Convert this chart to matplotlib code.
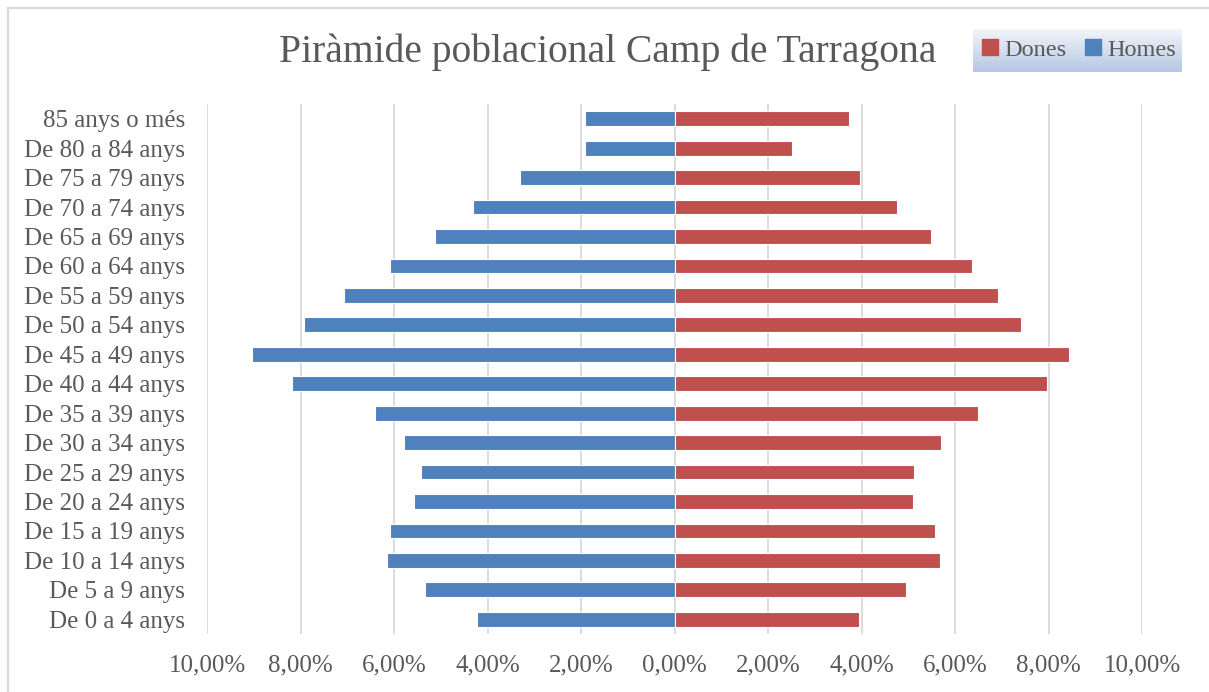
import numpy as np
import matplotlib.pyplot as plt
from matplotlib.patches import Patch
from matplotlib.ticker import FuncFormatter

# Grups d'edat, de baix a dalt
grups = ['De 0 a 4 anys', 'De 5 a 9 anys', 'De 10 a 14 anys', 'De 15 a 19 anys',
         'De 20 a 24 anys', 'De 25 a 29 anys', 'De 30 a 34 anys', 'De 35 a 39 anys',
         'De 40 a 44 anys', 'De 45 a 49 anys', 'De 50 a 54 anys', 'De 55 a 59 anys',
         'De 60 a 64 anys', 'De 65 a 69 anys', 'De 70 a 74 anys', 'De 75 a 79 anys',
         'De 80 a 84 anys', '85 anys o més']

# percentatges (%)
homes = [4.23, 5.33, 6.14, 6.09, 5.57, 5.42, 5.78, 6.40, 8.19, 9.04,
         7.93, 7.07, 6.09, 5.12, 4.30, 3.30, 1.91, 1.92]
dones = [3.94, 4.96, 5.67, 5.58, 5.11, 5.13, 5.69, 6.49, 7.96, 8.43,
         7.41, 6.92, 6.37, 5.49, 4.75, 3.97, 2.52, 3.74]

blau = '#4F81BD'
vermell = '#C0504D'
gris = '#595959'
font = 'Liberation Serif'

fig = plt.figure(figsize=(12.09, 6.92), dpi=100)
fig.patch.set_facecolor('white')

# vora del gràfic
fig.add_artist(plt.Line2D([7.5/1209, 7.5/1209], [0, 1-7.5/692], color='#D9D9D9', lw=1.6))
fig.add_artist(plt.Line2D([7.5/1209, 1], [1-7.5/692, 1-7.5/692], color='#D9D9D9', lw=1.6))

ax = fig.add_axes([207/1209, 1-634/692, (1142-207)/1209, (634-104)/692])
y = np.arange(len(grups))
ax.barh(y, -np.array(homes), height=0.5, color=blau, edgecolor='white', lw=0.8, zorder=3)
ax.barh(y, dones, height=0.5, color=vermell, edgecolor='white', lw=0.8, zorder=3)

ax.set_xlim(-10, 10)
ax.set_ylim(-0.5, len(grups)-0.5)
ax.set_xticks(np.arange(-10, 11, 2))
ax.xaxis.set_major_formatter(FuncFormatter(lambda v, p: ('%.2f%%' % abs(v)).replace('.', ',')))
ax.set_yticks(y)
ax.set_yticklabels(grups)
ax.grid(axis='x', color='#D9D9D9', lw=1.3, zorder=0)
for s in ax.spines.values():
    s.set_visible(False)
ax.tick_params(length=0, colors=gris, labelsize=18)
ax.tick_params(axis='x', pad=15)
ax.tick_params(axis='y', pad=16)
for t in ax.get_xticklabels() + ax.get_yticklabels():
    t.set_family(font)

fig.text(608/1209, 1-52/692, 'Piràmide poblacional Camp de Tarragona', ha='center', va='center',
         fontsize=28.5, color=gris, family=font)

# llegenda amb fons degradat
lax = fig.add_axes([973/1209, 1-72/692, (1182-973)/1209, (72-29)/692])
grad = np.linspace(0, 1, 100).reshape(-1, 1)
c1 = np.array([0.95, 0.96, 0.98])
c2 = np.array([0.71, 0.78, 0.89])
img = c1 + (c2 - c1) * grad[:, :, None]
lax.imshow(img, aspect='auto', extent=[0, 1, 0, 1], origin='upper')
lax.set_axis_off()
handles = [Patch(color=vermell, label='Dones'), Patch(color=blau, label='Homes')]
fig.legend(handles=handles, loc='center', bbox_to_anchor=(1079/1209, 1-50/692), ncol=2,
           frameon=False, prop={'family': font, 'size': 17.5}, labelcolor=gris,
           handlelength=0.65, handleheight=0.65, handletextpad=0.25, columnspacing=0.8)

fig.savefig('out.png', dpi=100)
